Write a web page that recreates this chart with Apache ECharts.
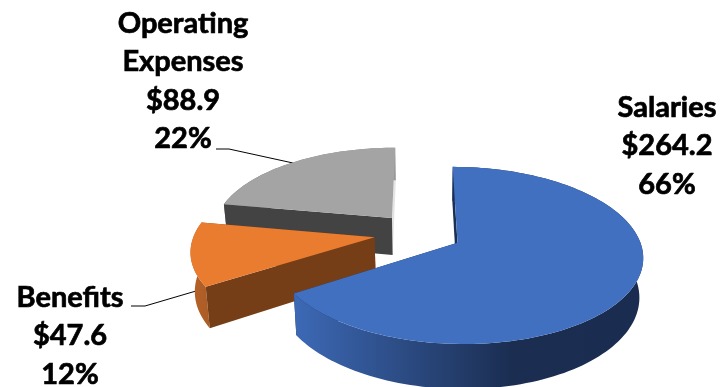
<!DOCTYPE html>
<html><head><meta charset="utf-8">
<style>html,body{margin:0;padding:0;background:#fff}#c{width:722px;height:387px}</style>
<script src="https://cdn.jsdelivr.net/npm/echarts@6/dist/echarts.min.js"></script>
</head><body><div id="c"></div>
<script>
var names = ['Salaries', 'Benefits', 'Operating\nExpenses'];
var amounts = [264.2, 47.6, 88.9];
var percents = ['66%', '12%', '22%'];

var total = amounts.reduce(function (a, b) { return a + b; }, 0);
var view = { cx: 419, cy: 233, rx: 180, ry: 84, k: 0.14, depth: 38, vx: 430, shrink: 0.982 };
var looks = [
  { explode: 0.24, top: '#4270c0', wallA: '#1b2f55', wallB: '#1b2f55', side: [[0, '#3c68b4'], [0.62, '#1b2e52'], [1, '#1a2c50']], sx: [298, 640],
    label: [667, 146], leader: null },
  { explode: 0.25, top: '#ea7c30', wallA: '#763e17', wallB: '#763e17', side: [[0, '#b56229'], [1, '#a85a24']], sx: [191, 215],
    label: [70, 336], leader: [[131, 306], [145, 306], [196, 291]] },
  { explode: 0.24, top: '#a4a4a4', wallA: '#434343', wallB: '#e4e4e4', side: [[0, '#6a6a6a'], [1, '#9a9a9a']], sx: [225, 395],
    label: [183, 81], leader: [[216, 149], [229, 149], [293, 163]] }
];
var labelFont = 'bold 29px Lato, sans-serif';

function project(u, v, z) {
  var s = 1 / (1 + view.k * v);
  var x = view.cx + view.rx * u * s;
  var y = view.cy - view.ry * v * s + z * view.depth * s;
  if (z) x = view.vx + (x - view.vx) * view.shrink;
  return [x, y];
}
function sliceAngles(i) {
  var before = 0;
  for (var j = 0; j < i; j++) before += amounts[j];
  return [before / total * 2 * Math.PI, (before + amounts[i]) / total * 2 * Math.PI];
}
function renderItem(params, api) {
  var i = params.dataIndex, look = looks[i], a = sliceAngles(i);
  var mid = (a[0] + a[1]) / 2;
  var u0 = look.explode * Math.sin(mid), v0 = look.explode * Math.cos(mid);
  var rim = [], n = Math.ceil((a[1] - a[0]) / 0.03);
  for (var t = 0; t <= n; t++) {
    var ang = a[0] + (a[1] - a[0]) * t / n;
    rim.push([u0 + Math.sin(ang), v0 + Math.cos(ang)]);
  }
  var P = function (p, z) { return project(p[0], p[1], z); };
  var apex = [u0, v0];
  var topPts = [P(apex, 0)].concat(rim.map(function (p) { return P(p, 0); }));
  var sidePts = rim.map(function (p) { return P(p, 0); }).concat(rim.slice().reverse().map(function (p) { return P(p, 1); }));
  var first = rim[0], last = rim[rim.length - 1];
  var stops = look.side.map(function (s) { return { offset: s[0], color: s[1] }; });
  var grad = new echarts.graphic.LinearGradient(look.sx[0], 0, look.sx[1], 0, stops, true);
  var base = (i === 0 ? 30 : i === 1 ? 20 : 10);
  var poly = function (pts, fill, z) {
    return { type: 'polygon', z2: base + z, shape: { points: pts }, style: { fill: fill } };
  };
  var kids = [
    poly([P(last, 0), P(apex, 0), P(apex, 1), P(last, 1)], look.wallB, 0),
    poly(sidePts, grad, 1),
    poly([P(first, 0), P(apex, 0), P(apex, 1), P(first, 1)], look.wallA, 2),
    poly(topPts, look.top, 3),
    { type: 'text', z2: 50, style: {
        x: look.label[0], y: look.label[1], align: 'center', verticalAlign: 'middle',
        text: names[i] + '\n$' + api.value(0).toFixed(1) + '\n' + percents[i],
        font: labelFont, fill: '#000', stroke: '#000', lineWidth: 0.7, lineHeight: 38.4 } }
  ];
  if (look.leader) kids.push({ type: 'polyline', z2: 5, shape: { points: look.leader }, style: { fill: null, stroke: '#000', lineWidth: 1 } });
  return { type: 'group', children: kids };
}
var chart = echarts.init(document.getElementById('c'), null, { renderer: 'canvas' });
chart.setOption({
  animation: false,
  backgroundColor: '#fff',
  series: [{ type: 'custom', coordinateSystem: 'none', renderItem: renderItem, data: amounts.map(function (v) { return [v]; }), silent: true }]
});
</script></body></html>
